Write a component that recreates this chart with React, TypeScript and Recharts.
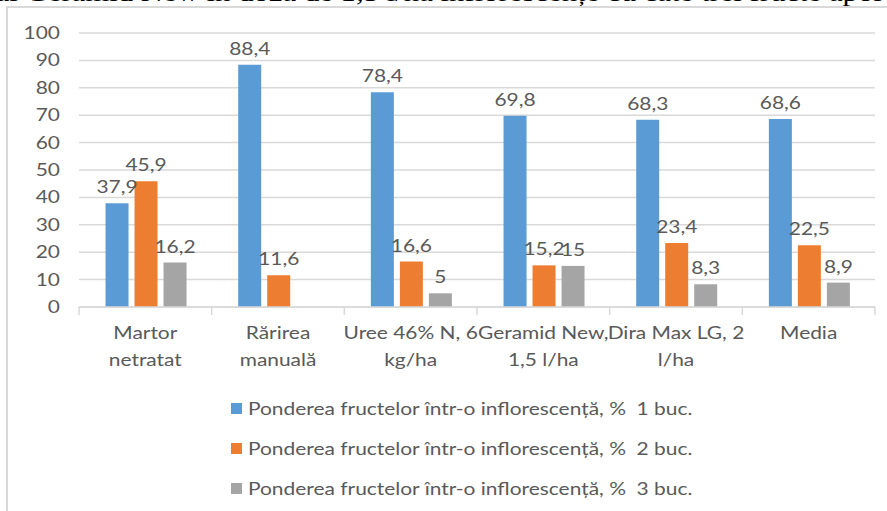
import { BarChart, Bar, XAxis, YAxis, CartesianGrid, Legend, LabelList } from "recharts";

const categories = [
  "Martor\nnetratat",
  "Rărirea\nmanuală",
  "Uree 46% N, 6\nkg/ha",
  "Geramid New,\n1,5 l/ha",
  "Dira Max LG, 2\nl/ha",
  "Media",
];
const seriesNames = [
  "Ponderea fructelor într-o inflorescență, %  1 buc.",
  "Ponderea fructelor într-o inflorescență, %  2 buc.",
  "Ponderea fructelor într-o inflorescență, %  3 buc.",
];
const oneFruit = [37.9, 88.4, 78.4, 69.8, 68.3, 68.6];
const twoFruits = [45.9, 11.6, 16.6, 15.2, 23.4, 22.5];
const threeFruits = [16.2, 0, 5, 15, 8.3, 8.9];
const yTicks = [0, 10, 20, 30, 40, 50, 60, 70, 80, 90, 100];

const colors = ["#5b9bd5", "#ed7d31", "#a5a5a5"];
const textColor = "#595959";
const gridColor = "#d9d9d9";
const font = "Lato, 'Open Sans', sans-serif";
// the source picture is stretched sideways, so text is widened to match
const stretch = 1.23;

const data = categories.map((name, i) => ({
  name,
  s1: oneFruit[i],
  s2: twoFruits[i],
  s3: threeFruits[i],
}));

const fmt = (v: any) => String(v).replace(".", ",");

const WideText = ({ x, y, anchor, children }: any) => (
  <text
    transform={`translate(${x},${y}) scale(${stretch},1)`}
    textAnchor={anchor}
    fill={textColor}
    fontSize={17}
    fontFamily={font}
  >
    {children}
  </text>
);

const CategoryTick = (props: any) => {
  const { x, y, payload, index, visibleTicksCount } = props;
  const half = payload && payload.offset ? payload.offset : 796 / 6 / 2;
  const lines = String(payload.value).split("\n");
  const last = index === (visibleTicksCount ?? categories.length) - 1;
  return (
    <g>
      <line x1={x - half} x2={x - half} y1={y} y2={y + 8} stroke={gridColor} strokeWidth={1.5} />
      {last && <line x1={x + half} x2={x + half} y1={y} y2={y + 8} stroke={gridColor} strokeWidth={1.5} />}
      {lines.map((l, i) => (
        <WideText key={i} x={x} y={y + 32 + i * 27} anchor="middle">
          {l}
        </WideText>
      ))}
    </g>
  );
};

const ValueTick = (props: any) => {
  const { x, y, payload } = props;
  return (
    <WideText x={x - 1} y={y + 6} anchor="end">
      {payload.value}
    </WideText>
  );
};

const BarValue = (props: any) => {
  const { x, y, width, value } = props;
  return (
    <WideText x={x + width / 2} y={y - 10} anchor="middle">
      {fmt(value)}
    </WideText>
  );
};

const LegendBox = () => (
  <div style={{ fontFamily: font, fontSize: 17, color: textColor }}>
    {seriesNames.map((n, i) => (
      <div key={n} style={{ display: "flex", alignItems: "center", height: 40 }}>
        <span style={{ width: 11, height: 11, background: colors[i], marginRight: 6, display: "inline-block" }} />
        <span
          style={{
            whiteSpace: "pre",
            display: "inline-block",
            transform: `scaleX(${stretch})`,
            transformOrigin: "left center",
          }}
        >
          {n}
        </span>
      </div>
    ))}
  </div>
);

export default function App() {
  return (
    <div
      style={{
        position: "absolute",
        left: 0,
        top: 0,
        width: 887,
        height: 511,
        overflow: "hidden",
        background: "#fff",
      }}
    >
      <div
        style={{
          position: "absolute",
          left: -30,
          top: -21,
          whiteSpace: "nowrap",
          fontFamily: "'Liberation Serif', serif",
          fontSize: 25,
          color: "#000",
          transform: `scaleX(${stretch})`,
          transformOrigin: "left top",
        }}
      >
        ului Geramid New în doza de 1,5 l/ha inflorescențe cu câte trei fructe apoi
      </div>
      <div
        style={{
          position: "absolute",
          left: 6,
          top: 6,
          width: 900,
          height: 530,
          border: `2px solid ${gridColor}`,
        }}
      />
      <div style={{ position: "absolute", left: 0, top: 0 }}>
        <BarChart
          width={887}
          height={511}
          data={data}
          margin={{ top: 33, right: 12, left: 19, bottom: 144 }}
          barCategoryGap="20%"
          barGap={6}
        >
          <CartesianGrid vertical={false} stroke={gridColor} strokeWidth={1.5} />
          <XAxis
            dataKey="name"
            height={60}
            tickSize={0}
            tickMargin={0}
            tickLine={false}
            axisLine={{ stroke: gridColor, strokeWidth: 1.5 }}
            tick={<CategoryTick />}
            interval={0}
          />
          <YAxis
            width={60}
            domain={[0, 100]}
            ticks={yTicks}
            tickSize={0}
            tickMargin={18}
            axisLine={false}
            tickLine={false}
            tick={<ValueTick />}
          />
          <Legend
            layout="horizontal"
            verticalAlign="middle"
            align="center"
            wrapperStyle={{ left: 231, top: 388, width: 520 }}
            content={<LegendBox />}
          />
          {["s1", "s2", "s3"].map((k, i) => (
            <Bar key={k} dataKey={k} name={seriesNames[i]} fill={colors[i]} isAnimationActive={false}>
              <LabelList dataKey={k} content={<BarValue />} />
            </Bar>
          ))}
        </BarChart>
      </div>
    </div>
  );
}
